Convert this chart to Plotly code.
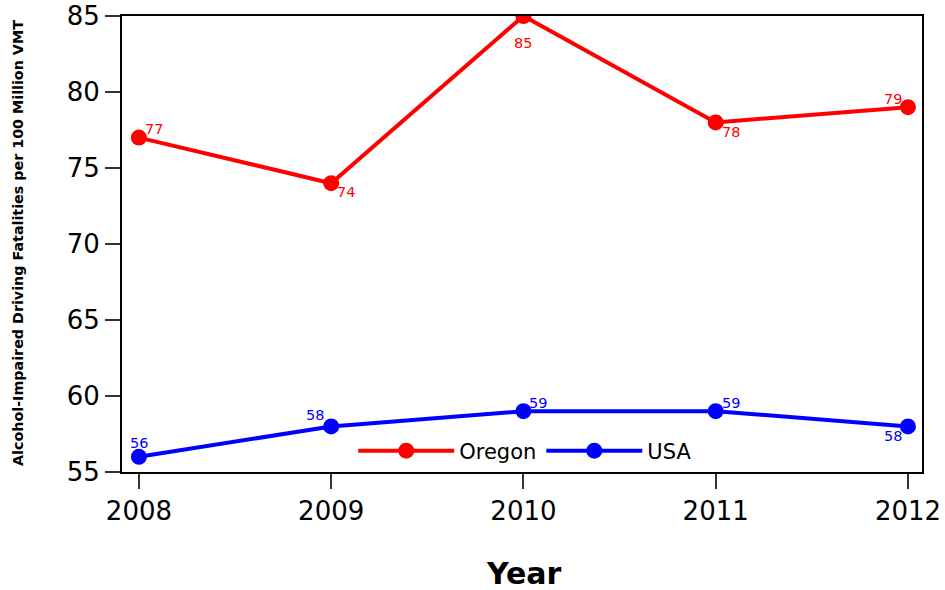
import plotly.graph_objects as go

years = [2008, 2009, 2010, 2011, 2012]
oregon = [77, 74, 85, 78, 79]
usa = [56, 58, 59, 59, 58]
y_ticks = [55, 60, 65, 70, 75, 80, 85]

# label offsets (pixels) for data labels
or_dx = [15, 15, 0, 15, -15]
or_dy = [9, -9, -27, -10, 8]
us_dx = [0, -16, 15, 15, -15]
us_dy = [14, 11, 8, 8, -10]

FONT = "DejaVu Sans"

fig = go.Figure()
fig.add_trace(go.Scatter(x=years, y=oregon, mode="lines+markers", name="Oregon",
                         line=dict(color="#ff0000", width=4),
                         marker=dict(color="#ff0000", size=16)))
fig.add_trace(go.Scatter(x=years, y=usa, mode="lines+markers", name="USA",
                         line=dict(color="#0000ff", width=4),
                         marker=dict(color="#0000ff", size=16)))

annotations = []
for xs, ys, dxs, dys, col in [(years, oregon, or_dx, or_dy, "#ff0000"),
                              (years, usa, us_dx, us_dy, "#0000ff")]:
    for xv, yv, dx, dy in zip(xs, ys, dxs, dys):
        annotations.append(dict(x=xv, y=yv, text=str(yv), showarrow=False,
                                xshift=dx, yshift=dy,
                                font=dict(family=FONT, size=14.5, color=col)))

# axis titles as paper annotations
annotations.append(dict(xref="paper", yref="paper", x=0.503, y=0, yshift=-101,
                        text="<b>Year</b>", showarrow=False, yanchor="middle",
                        font=dict(family=FONT, size=30, color="black")))
annotations.append(dict(xref="paper", yref="paper", x=0, xshift=-104, y=0.5, yshift=1,
                        text="<b>Alcohol-Impaired Driving Fatalities per 100 Million VMT</b>",
                        showarrow=False, textangle=-90, xanchor="center",
                        font=dict(family=FONT, size=14.3, color="black")))

fig.update_layout(
    width=945, height=590,
    margin=dict(l=122, r=23, t=16, b=118),
    paper_bgcolor="white", plot_bgcolor="white",
    font=dict(family=FONT, color="black"),
    annotations=annotations,
    showlegend=True,
    legend=dict(orientation="h", x=0.504, y=0.046, xanchor="center", yanchor="middle",
                font=dict(family=FONT, size=21, color="black"),
                bgcolor="rgba(0,0,0,0)", itemwidth=96),
    xaxis=dict(range=[2007.912, 2012.073], tickmode="array", tickvals=years,
               ticktext=[str(y) for y in years], automargin=False,
               showgrid=False, zeroline=False,
               showline=True, linecolor="black", linewidth=2, mirror=True,
               ticks="outside", ticklen=15, tickwidth=1.5, tickcolor="#333",
               tickfont=dict(family=FONT, size=26, color="black")),
    yaxis=dict(range=[55, 85], tickmode="array", tickvals=y_ticks, automargin=False,
               showgrid=False, zeroline=False,
               showline=True, linecolor="black", linewidth=2, mirror=True,
               ticks="outside", ticklen=15, tickwidth=1.5, tickcolor="#333",
               tickfont=dict(family=FONT, size=26, color="black")),
)

fig.write_html("out.html", config={"displayModeBar": False},
               post_script="document.body.style.margin='0';document.body.style.overflow='hidden';")
